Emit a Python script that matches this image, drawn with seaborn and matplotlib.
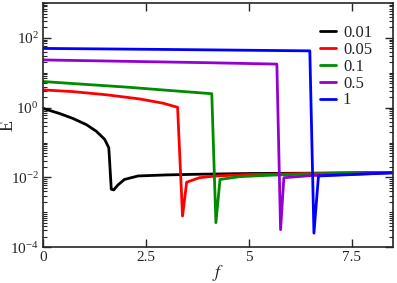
import numpy as np
import pandas as pd
import matplotlib
matplotlib.use("Agg")
import matplotlib.pyplot as plt
import matplotlib.ticker as mticker
import seaborn as sns

# values (E as log10)
labels = ["0.01", "0.05", "0.1", "0.5", "1"]
colors = ["#000000", "#ff0000", "#008b00", "#9400d3", "#0000ff"]

f_001 = [0, 0.41, 0.73, 1.06, 1.30, 1.50, 1.60, 1.62, 1.66, 1.72, 1.82, 1.98, 2.31, 3.0, 3.8, 5.0, 6.5, 8.5]
logE_001 = [-0.02, -0.17, -0.31, -0.49, -0.68, -0.91, -1.15, -1.53, -2.34, -2.36, -2.22, -2.06, -1.96, -1.93, -1.91, -1.89, -1.88, -1.86]

f_005 = [0, 0.73, 1.54, 2.35, 2.91, 3.27, 3.39, 3.49, 3.80, 4.2, 5.0, 6.5, 8.5]
logE_005 = [0.51, 0.46, 0.37, 0.25, 0.13, 0.01, -3.11, -2.14, -2.01, -1.96, -1.92, -1.89, -1.86]

f_01 = [0, 1.0, 2.03, 3.0, 4.10, 4.20, 4.30, 4.77, 5.5, 6.5, 8.5]
logE_01 = [0.75, 0.67, 0.59, 0.50, 0.40, -3.30, -2.06, -1.98, -1.94, -1.90, -1.86]

f_05 = [0, 2.0, 4.0, 5.68, 5.77, 5.85, 6.5, 8.5]
logE_05 = [1.37, 1.33, 1.29, 1.25, -3.50, -2.01, -1.95, -1.87]

f_1 = [0, 3.0, 6.48, 6.58, 6.69, 7.5, 8.5]
logE_1 = [1.70, 1.67, 1.63, -3.60, -1.96, -1.92, -1.87]

series = [(f_001, logE_001), (f_005, logE_005), (f_01, logE_01), (f_05, logE_05), (f_1, logE_1)]

rows = []
for lab, (fs, les) in zip(labels, series):
    for fv, le in zip(fs, les):
        rows.append({"f": fv, "E": 10 ** le, "p": lab})
df = pd.DataFrame(rows)

sns.set_style("ticks")
plt.rcParams["font.family"] = ["Liberation Serif", "DejaVu Serif"]
plt.rcParams["mathtext.fontset"] = "stix"

fig = plt.figure(figsize=(3.97, 2.83), dpi=100)
ax = fig.add_axes([0.108, 0.127, 0.882, 0.862])

sns.lineplot(data=df, x="f", y="E", hue="p", hue_order=labels,
             palette=colors, sort=False, estimator=None, lw=2.0, ax=ax)

ax.set_yscale("log")
ax.set_xlim(0, 8.5)
ax.set_ylim(1e-4, 1e3)

ax.set_xticks([0, 2.5, 5, 7.5])
ax.set_xticklabels(["0", "2.5", "5", "7.5"])
ax.yaxis.set_major_locator(mticker.FixedLocator([1e-4, 1e-2, 1e0, 1e2]))
ax.yaxis.set_major_formatter(mticker.LogFormatterSciNotation())
ax.yaxis.set_minor_locator(mticker.LogLocator(base=10, subs=np.arange(1, 10), numticks=50))
ax.yaxis.set_minor_formatter(mticker.NullFormatter())

ax.tick_params(which="both", direction="in", top=True, right=True, labelsize=11)
ax.tick_params(which="major", length=6, width=1, pad=3)
ax.tick_params(which="minor", length=3, width=0.8)
ax.tick_params(axis="x", which="minor", top=False, bottom=False)
for s in ax.spines.values():
    s.set_linewidth(1.2)

ax.set_xlabel("$f$", fontsize=13)
ax.set_ylabel("E", fontsize=13)
ax.xaxis.set_label_coords(0.5, -0.065)
ax.yaxis.set_label_coords(-0.074, 0.5)

ax.legend(frameon=False, loc="upper right", bbox_to_anchor=(0.94, 0.91),
          fontsize=12, handlelength=1.0, handletextpad=0.4, labelspacing=0.05,
          borderaxespad=0, borderpad=0)

plt.savefig("out.png", dpi=100)
